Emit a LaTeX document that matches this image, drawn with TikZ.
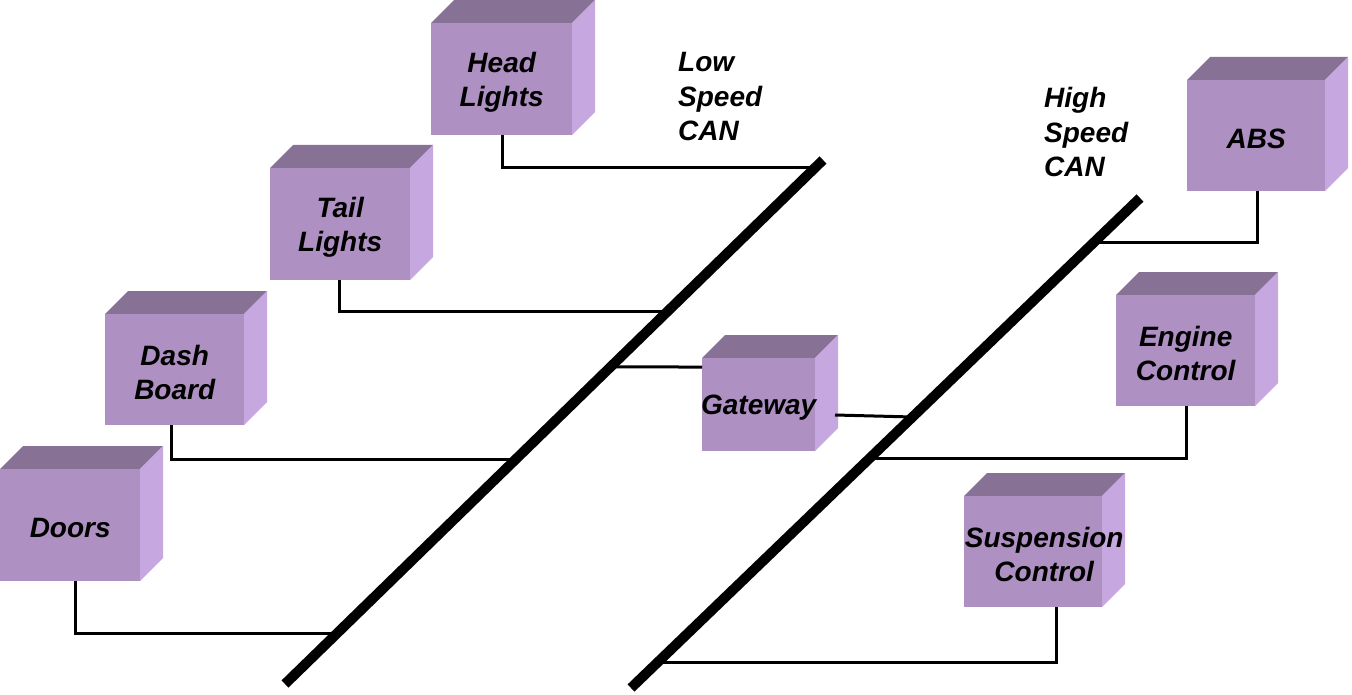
\documentclass[tikz,border=0pt]{standalone}
\usepackage{fontspec}
\setmainfont{Liberation Sans}
\usetikzlibrary{calc}
\definecolor{frontc}{HTML}{AE90C2}
\definecolor{topc}{HTML}{877295}
\definecolor{sidec}{HTML}{C6A7E0}
\tikzset{
  ecubox/.style={fill=frontc, draw=none, inner sep=0pt, anchor=north west},
  ecutext/.style={align=center, font=\fontsize{28}{34.5}\selectfont\bfseries\itshape, inner sep=0pt},
  buslabel/.style={align=left, font=\fontsize{28}{34.5}\selectfont\bfseries\itshape, inner sep=0pt, anchor=west},
  bus/.style={line width=10pt, line cap=butt},
  wire/.style={line width=3pt},
}
% name, x, y (front top-left), w, h, text, text xshift
\newcommand\ecucube[7]{%
  \fill[topc] (#2,#3) -- ++(23,-23) -- ++(#4,0) -- ++(-23,23) -- cycle;
  \fill[sidec] (#2+#4,#3) -- ++(23,-23) -- ++(0,#5) -- ++(-23,23) -- cycle;
  \node[ecubox, minimum width=#4, minimum height=#5] (#1) at (#2,#3) {};
  \node[ecutext] (#1-t) at ($(#1.center)+(#7,3)$) {#6};
}
\begin{document}
\begin{tikzpicture}[x=1pt, y=-1pt]
\useasboundingbox (0,0) rectangle (1352,695);
% buses
\coordinate (lsA) at (285,684);
\coordinate (lsB) at (823,160);
\coordinate (hsA) at (631,688);
\coordinate (hsB) at (1140,198);
\draw[bus] (lsA) -- (lsB);
\draw[bus] (hsA) -- (hsB);
% boxes
\ecucube{hl}{431}{23}{141}{112}{Head\\Lights}{0}
\ecucube{tl}{270}{168}{140}{112}{Tail\\Lights}{0}
\ecucube{db}{105}{314}{139}{111}{Dash\\Board}{0}
\ecucube{dr}{0}{469}{140}{112}{Doors}{0}
\ecucube{gw}{702}{358}{113}{93}{Gateway}{0}
\ecucube{abs}{1187}{80}{138}{111}{ABS}{0}
\ecucube{ec}{1116}{295}{139}{111}{Engine\\Control}{0}
\ecucube{sc}{964}{496}{138}{111}{Suspension\\Control}{11}
% wire start points on the boxes
\coordinate (sHL) at (502,135);
\coordinate (sTL) at (339,280);
\coordinate (sDB) at (171,425);
\coordinate (sDR) at (75,581);
\coordinate (sABS) at (1257,191);
\coordinate (sEC) at (1186,406);
\coordinate (sSC) at (1056,607);
\coordinate (gwL) at (702,367);
\coordinate (gwR) at (835,415);
% bus taps
\coordinate (pHL) at (intersection of lsA--lsB and 0,168--1,168);
\coordinate (pTL) at (intersection of lsA--lsB and 0,312--1,312);
\coordinate (pDB) at (intersection of lsA--lsB and 0,460--1,460);
\coordinate (pDR) at (intersection of lsA--lsB and 0,634--1,634);
\coordinate (pGL) at (intersection of lsA--lsB and 0,367--1,367);
\coordinate (pGR) at (intersection of hsA--hsB and 0,417--1,417);
\coordinate (pABS) at (intersection of hsA--hsB and 0,243--1,243);
\coordinate (pEC) at (intersection of hsA--hsB and 0,459--1,459);
\coordinate (pSC) at (intersection of hsA--hsB and 0,663--1,663);
% wires
\draw[wire] (sHL) |- (pHL);
\draw[wire] (sTL) |- (pTL);
\draw[wire] (sDB) |- (pDB);
\draw[wire] (sDR) |- (pDR);
\draw[wire] (gwL) -- (pGL);
\draw[wire] (gwR) -- (pGR);
\draw[wire] (sABS) |- (pABS);
\draw[wire] (sEC) |- (pEC);
\draw[wire] (sSC) |- (pSC);
% labels
\node[buslabel] (lslab) at (678,97) {Low\\Speed\\CAN};
\node[buslabel] (hslab) at (1044,132) {High\\Speed\\CAN};
\end{tikzpicture}
\end{document}
